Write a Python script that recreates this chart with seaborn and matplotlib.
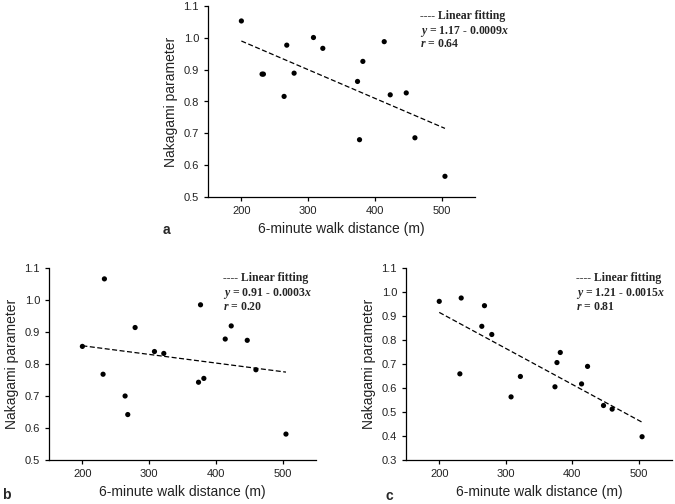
import matplotlib
matplotlib.use("Agg")
import matplotlib.pyplot as plt
import numpy as np
import pandas as pd
import seaborn as sns

# 6-minute walk distance (m), shared by the three panels
walk_distance = [200, 231, 233, 264, 268, 279, 308, 322, 374, 377, 382, 414, 423, 447, 460, 505]

# Nakagami parameter per panel
nakagami_a = [1.053, 0.886, 0.886, 0.816, 0.977, 0.889, 1.001, 0.967,
              0.863, 0.680, 0.926, 0.988, 0.821, 0.827, 0.686, 0.565]
nakagami_b = [0.855, 0.768, 1.066, 0.700, 0.642, 0.914, 0.839, 0.833,
              0.743, 0.985, 0.755, 0.878, 0.919, 0.874, 0.782, 0.581]
nakagami_c = [0.961, 0.659, 0.975, 0.857, 0.943, 0.823, 0.563, 0.648,
              0.605, 0.706, 0.748, 0.617, 0.690, 0.527, 0.512, 0.397]

# linear fits as drawn
fit_intercept = [1.17, 0.911, 1.215]
fit_slope = [-0.0009, -0.00027, -0.0015]
fit_range = [200, 505]
equations = ["1.17 - 0.0009", "0.91 - 0.0003", "1.21 - 0.0015"]
r_values = ["0.64", "0.20", "0.81"]
panel_labels = ["a", "b", "c"]
y_limits = [(0.5, 1.1), (0.5, 1.1), (0.3, 1.1)]

sns.set_theme(style="ticks")
plt.rcParams.update({
    "font.family": ["Liberation Sans", "DejaVu Sans"],
    "axes.edgecolor": "black",
    "axes.linewidth": 0.9,
    "xtick.color": "black",
    "ytick.color": "black",
    "xtick.labelcolor": "#222222",
    "ytick.labelcolor": "#222222",
    "xtick.major.size": 3,
    "ytick.major.size": 3,
    "xtick.major.width": 0.9,
    "ytick.major.width": 0.9,
    "xtick.labelsize": 8,
    "ytick.labelsize": 8,
    "mathtext.fontset": "custom",
    "mathtext.it": "Liberation Serif:italic:bold",
    "mathtext.rm": "Liberation Serif:bold",
})

fig = plt.figure(figsize=(6.75, 5.04), dpi=100)
W, H = 675, 504
boxes = [(208, 6, 475, 197), (49, 268, 316, 460), (406, 268, 672, 460)]
text_x = [0.795, 0.65, 0.64]
label_pos = [(163, 230), (2, 495), (386, 496)]
series = [nakagami_a, nakagami_b, nakagami_c]

for i, (l, t, r, b) in enumerate(boxes):
    ax = fig.add_axes([l / W, 1 - b / H, (r - l) / W, (b - t) / H])
    df = pd.DataFrame({"x": walk_distance, "y": series[i]})
    sns.scatterplot(data=df, x="x", y="y", ax=ax, color="black", s=14,
                    edgecolor="none", zorder=3)
    fx = np.array(fit_range, dtype=float)
    fit = pd.DataFrame({"x": fx, "y": fit_intercept[i] + fit_slope[i] * fx})
    sns.lineplot(data=fit, x="x", y="y", ax=ax, color="black", lw=0.9,
                 linestyle=(0, (4, 2)))
    ax.set_xlim(150, 550)
    ax.set_ylim(*y_limits[i])
    ax.set_xticks([200, 300, 400, 500])
    lo, hi = y_limits[i]
    ax.set_yticks(np.round(np.arange(lo, hi + 0.001, 0.1), 1))
    ax.yaxis.set_major_formatter(matplotlib.ticker.FormatStrFormatter("%.1f"))
    ax.set_xlabel("6-minute walk distance (m)", fontsize=10, color="#222222", labelpad=4)
    ax.set_ylabel("Nakagami parameter", fontsize=10, color="#222222", labelpad=4)
    sns.despine(ax=ax)

    tx = text_x[i]
    serif = dict(family=["Liberation Serif", "DejaVu Serif"], fontweight="bold",
                 fontsize=8.5, transform=ax.transAxes, va="top", ha="left")
    ax.text(tx, 0.98, "---- Linear fitting", **serif)
    ax.text(tx, 0.905, r"$\mathit{y}$ = " + equations[i] + r"$\mathit{x}$", **serif)
    ax.text(tx, 0.83, r"$\mathit{r}$ = " + r_values[i], **serif)

    px, py = label_pos[i]
    fig.text(px / W, 1 - py / H, panel_labels[i], fontsize=10, fontweight="bold",
             va="center", ha="left")

fig.savefig("out.png", dpi=100, facecolor="white")
